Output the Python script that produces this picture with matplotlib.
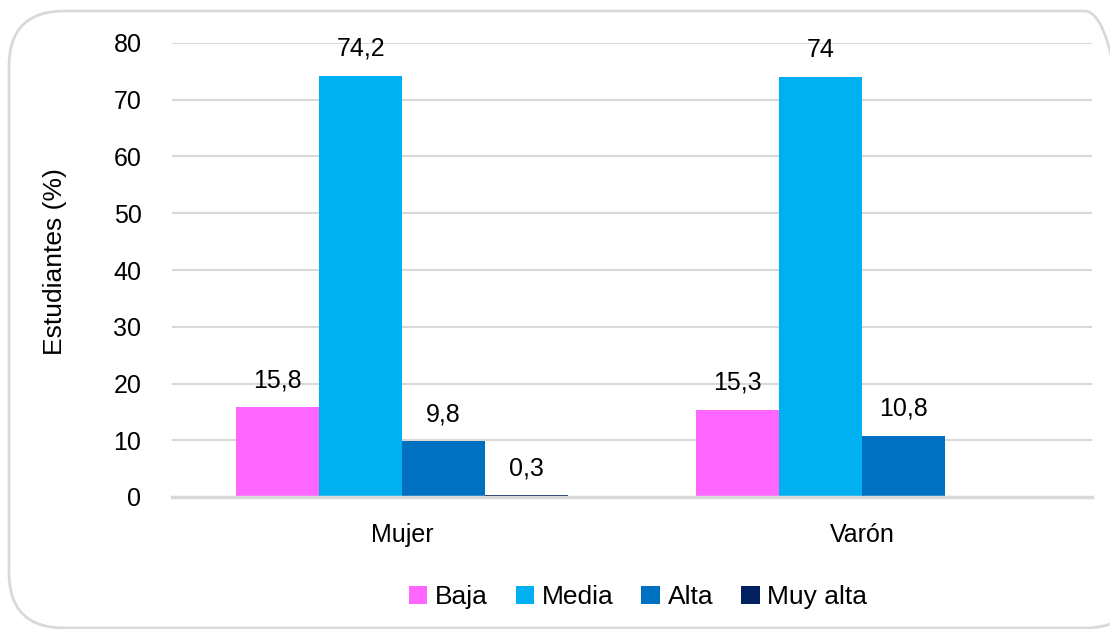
import numpy as np
import matplotlib.pyplot as plt
from matplotlib.patches import FancyBboxPatch

plt.rcParams['font.family'] = ['Liberation Sans', 'DejaVu Sans']

# Data
grupos = ['Mujer', 'Varón']
niveles = ['Baja', 'Media', 'Alta', 'Muy alta']
baja = [15.8, 15.3]
media = [74.2, 74.0]
alta = [9.8, 10.8]
muy_alta = [0.3, 0.0]
etiquetas_baja = ['15,8', '15,3']
etiquetas_media = ['74,2', '74']
etiquetas_alta = ['9,8', '10,8']
etiquetas_muy_alta = ['0,3', '']

colores = ['#FF66FF', '#00B0F0', '#0070C0', '#002060']

fig = plt.figure(figsize=(11.1, 6.29), dpi=100)

# rounded outer frame
frame = FancyBboxPatch((9 / 1110, 1 - 628 / 629), (1140 - 9) / 1110, (628 - 11) / 629,
                       boxstyle='round,pad=0,rounding_size=0.05',
                       transform=fig.transFigure, facecolor='none',
                       edgecolor='#D9D9D9', linewidth=2, zorder=-10,
                       mutation_aspect=1110 / 629)
fig.patches.append(frame)

ax = fig.add_axes([172 / 1110, 1 - 497 / 629, (1092 - 172) / 1110, (497 - 43) / 629])
ax.set_facecolor('none')

x = np.arange(len(grupos))
w = 0.18
series = [baja, media, alta, muy_alta]
textos = [etiquetas_baja, etiquetas_media, etiquetas_alta, etiquetas_muy_alta]

for i, (vals, labs) in enumerate(zip(series, textos)):
    pos = x + (i - 1.5) * w
    ax.bar(pos, vals, width=w, color=colores[i], label=niveles[i], zorder=3)
    for px, v, t in zip(pos, vals, labs):
        if t:
            ax.annotate(t, (px, v), xytext=(0, 11), textcoords='offset points',
                        ha='center', va='bottom', fontsize=18)

ax.set_xlim(-0.5, 1.5)
ax.set_ylim(0, 80)
ax.set_yticks(range(0, 81, 10))
ax.set_xticks(x)
ax.set_xticklabels(grupos)
ax.tick_params(axis='both', length=0, labelsize=18)
ax.tick_params(axis='y', pad=22)
ax.tick_params(axis='x', pad=19)
ax.yaxis.grid(True, color='#D9D9D9', linewidth=1.5, zorder=0)
ax.set_axisbelow(True)
for s in ['top', 'right', 'left']:
    ax.spines[s].set_visible(False)
ax.spines['bottom'].set_color('#D9D9D9')
ax.spines['bottom'].set_linewidth(2.5)
ax.spines['bottom'].set_zorder(5)

fig.text(55 / 1110, 1 - 262 / 629, 'Estudiantes (%)', rotation=90,
         ha='center', va='center', fontsize=19)

fig.legend(loc='center', bbox_to_anchor=(638 / 1110, 1 - 597 / 629), ncol=4,
           frameon=False, fontsize=19, handlelength=0.7, handleheight=0.7,
           handletextpad=0.3, columnspacing=1.05)

fig.savefig('out.png', dpi=100)
